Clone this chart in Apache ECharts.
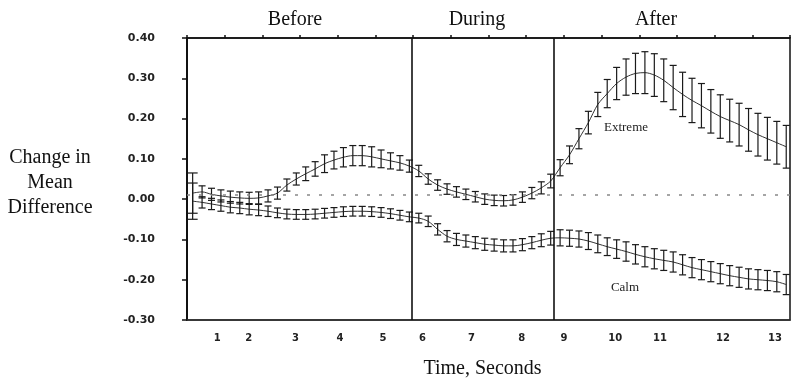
<!DOCTYPE html>
<html>
<head>
<meta charset="utf-8">
<script src="https://cdn.jsdelivr.net/npm/echarts@6/dist/echarts.min.js"></script>
<style>
  html, body { margin: 0; background: #fff; }
  #chart { width: 792px; height: 379px; }
</style>
</head>
<body>
<div id="chart"></div>
<script>
// x axis runs in grid units 0..16 (one top tick per unit)
const phases = ['Before', 'During', 'After'];
const phaseBounds = [5.97, 9.74];
const secondLabels = ['1', '2', '3', '4', '5', '6', '7', '8', '9', '10', '11', '12', '13'];
const secondPos = [0.8, 1.64, 2.88, 4.06, 5.2, 6.25, 7.55, 8.88, 10.0, 11.36, 12.55, 14.22, 15.6];
const baseline = 0.01;

// samples
const sampleStart = 0.15;
const sampleStep = 0.25;
const extremeMean = [
  0.015, 0.018, 0.012, 0.008, 0.005, 0.003, 0.002, 0.003, 0.008, 0.015,
  0.035, 0.05, 0.063, 0.075, 0.088, 0.097, 0.104, 0.108, 0.108, 0.105,
  0.1, 0.095, 0.09, 0.082, 0.07, 0.05, 0.035, 0.025, 0.018, 0.012,
  0.006, 0.0, -0.003, -0.004, -0.002, 0.005, 0.015, 0.028, 0.045, 0.078,
  0.11, 0.15, 0.19, 0.235, 0.262, 0.287, 0.303, 0.312, 0.314, 0.308,
  0.295, 0.277, 0.26, 0.245, 0.232, 0.218, 0.205, 0.195, 0.185, 0.172,
  0.16, 0.15, 0.14, 0.13
];
const extremeErr = [
  0.05, 0.015, 0.015, 0.015, 0.015, 0.015, 0.015, 0.015, 0.015, 0.015,
  0.015, 0.015, 0.017, 0.018, 0.022, 0.022, 0.024, 0.025, 0.025, 0.025,
  0.022, 0.02, 0.018, 0.015, 0.014, 0.013, 0.013, 0.013, 0.013, 0.013,
  0.013, 0.013, 0.013, 0.013, 0.013, 0.013, 0.014, 0.015, 0.017, 0.02,
  0.022, 0.025, 0.028, 0.03, 0.035, 0.04, 0.045, 0.05, 0.052, 0.053,
  0.053, 0.055, 0.055, 0.055, 0.055, 0.054, 0.054, 0.053, 0.053, 0.053,
  0.053, 0.053, 0.053, 0.053
];
const calmMean = [
  -0.005, -0.008, -0.012, -0.016, -0.02, -0.022, -0.025, -0.027, -0.03, -0.034,
  -0.037, -0.038, -0.038, -0.037, -0.035, -0.033, -0.031, -0.03, -0.03, -0.031,
  -0.033, -0.036, -0.04, -0.044, -0.047, -0.055, -0.075, -0.092, -0.1, -0.104,
  -0.108, -0.112, -0.114, -0.116, -0.116, -0.113, -0.108, -0.102, -0.097, -0.096,
  -0.097, -0.099, -0.104, -0.111, -0.118, -0.124, -0.13, -0.137, -0.143, -0.148,
  -0.152, -0.156, -0.163, -0.17, -0.175, -0.18, -0.185, -0.19, -0.194, -0.198,
  -0.2, -0.202, -0.205, -0.212
];
const calmErr = [
  0.045, 0.014, 0.014, 0.014, 0.014, 0.014, 0.014, 0.014, 0.013, 0.012,
  0.012, 0.012, 0.012, 0.012, 0.012, 0.012, 0.012, 0.012, 0.012, 0.012,
  0.012, 0.012, 0.012, 0.012, 0.012, 0.013, 0.014, 0.014, 0.015, 0.015,
  0.015, 0.015, 0.015, 0.015, 0.015, 0.015, 0.015, 0.016, 0.017, 0.02,
  0.02, 0.02, 0.021, 0.022, 0.022, 0.023, 0.024, 0.024, 0.025, 0.025,
  0.025, 0.025, 0.025, 0.025, 0.025, 0.025, 0.025, 0.025, 0.025, 0.025,
  0.025, 0.025, 0.025, 0.025
];

const sansBold = { fontFamily: 'DejaVu Sans', fontWeight: 'bold', fontSize: 11, color: '#222' };
const serif = 'Liberation Serif';
const bigSerif = '20px "Liberation Serif"';

function points(means) {
  return means.map((m, i) => [sampleStart + i * sampleStep, m]);
}
function bars(means, errs) {
  return means.map((m, i) => [sampleStart + i * sampleStep, m - errs[i], m + errs[i]]);
}

function renderErr(params, api) {
  const x = api.value(0);
  const lo = api.coord([x, api.value(1)]);
  const hi = api.coord([x, api.value(2)]);
  const w = params.dataIndex === 0 ? 5 : 3.5;
  const style = { stroke: '#1a1a1a', lineWidth: 1.2 };
  return {
    type: 'group',
    children: [
      { type: 'line', shape: { x1: lo[0], y1: lo[1], x2: hi[0], y2: hi[1] }, style },
      { type: 'line', shape: { x1: lo[0] - w, y1: lo[1], x2: lo[0] + w, y2: lo[1] }, style },
      { type: 'line', shape: { x1: hi[0] - w, y1: hi[1], x2: hi[0] + w, y2: hi[1] }, style }
    ]
  };
}

const chart = echarts.init(document.getElementById('chart'));

chart.setOption({
  animation: false,
  grid: {
    left: 187, top: 38, right: 2, bottom: 59,
    outerBoundsMode: 'none',
    show: true, borderColor: '#111', borderWidth: 1.5
  },
  xAxis: [{
    type: 'value', min: 0, max: 16, position: 'bottom',
    axisLine: { show: true, onZero: false, lineStyle: { color: '#333', width: 1.5 } },
    axisTick: { show: false },
    splitLine: { show: false },
    axisLabel: {
      ...sansBold,
      fontSize: 10,
      margin: 13,
      customValues: secondPos,
      formatter: v => {
        const k = secondPos.findIndex(p => Math.abs(p - v) < 1e-6);
        return k >= 0 ? secondLabels[k] : '';
      }
    },
    name: 'Time, Seconds',
    nameLocation: 'middle',
    nameGap: 39,
    nameTextStyle: { fontFamily: serif, fontSize: 20, color: '#111', padding: [0, 12, 0, 0] }
  }, {
    type: 'value', min: 0, max: 16, interval: 1, position: 'top',
    axisLine: { show: true, onZero: false, lineStyle: { color: '#111', width: 1.5 } },
    axisTick: { show: true, inside: false, length: 3, lineStyle: { color: '#111', width: 1.5 } },
    axisLabel: { show: false },
    splitLine: { show: false }
  }],
  yAxis: {
    type: 'value', min: -0.3, max: 0.4, interval: 0.1,
    axisLine: { show: true, onZero: false, lineStyle: { color: '#111', width: 2 } },
    axisTick: { show: true, length: 5, lineStyle: { color: '#111', width: 1.5 } },
    splitLine: { show: false },
    axisLabel: { ...sansBold, margin: 32, formatter: v => v.toFixed(2) }
  },
  graphic: [
    { type: 'text', x: 50, y: 145, style: { text: 'Change in\nMean\nDifference', font: bigSerif, fill: '#111', lineHeight: 25, align: 'center', verticalAlign: 'top' } },
    { type: 'text', x: 295, y: 20, style: { text: phases[0], font: bigSerif, fill: '#111', align: 'center', verticalAlign: 'middle' } },
    { type: 'text', x: 477, y: 20, style: { text: phases[1], font: bigSerif, fill: '#111', align: 'center', verticalAlign: 'middle' } },
    { type: 'text', x: 656, y: 20, style: { text: phases[2], font: bigSerif, fill: '#111', align: 'center', verticalAlign: 'middle' } },
    { type: 'text', x: 626, y: 128, style: { text: 'Extreme', font: '13px "Liberation Serif"', fill: '#222', align: 'center', verticalAlign: 'middle' } },
    { type: 'text', x: 625, y: 288, style: { text: 'Calm', font: '13px "Liberation Serif"', fill: '#222', align: 'center', verticalAlign: 'middle' } }
  ],
  series: [
    {
      type: 'line', name: 'dividers', data: [],
      markLine: {
        silent: true, symbol: 'none', label: { show: false },
        lineStyle: { color: '#111', type: 'solid', width: 1.6 },
        data: phaseBounds.map(x => ({ xAxis: x }))
      }
    },
    {
      type: 'line', name: 'baseline', data: [],
      markLine: {
        silent: true, symbol: 'none', label: { show: false },
        lineStyle: { color: '#888', type: [3, 9], width: 1.5 },
        data: [{ yAxis: baseline }]
      }
    },
    {
      type: 'line', name: 'Extreme', data: points(extremeMean), smooth: 0.3,
      showSymbol: false, lineStyle: { color: '#333', width: 1 }, z: 3
    },
    {
      type: 'line', name: 'Calm', data: points(calmMean), smooth: 0.3,
      showSymbol: false, lineStyle: { color: '#333', width: 1 }, z: 3
    },
    { type: 'custom', name: 'Extreme err', data: bars(extremeMean, extremeErr), renderItem: renderErr, z: 4 },
    { type: 'custom', name: 'Calm err', data: bars(calmMean, calmErr), renderItem: renderErr, z: 4 }
  ]
});
</script>
</body>
</html>
